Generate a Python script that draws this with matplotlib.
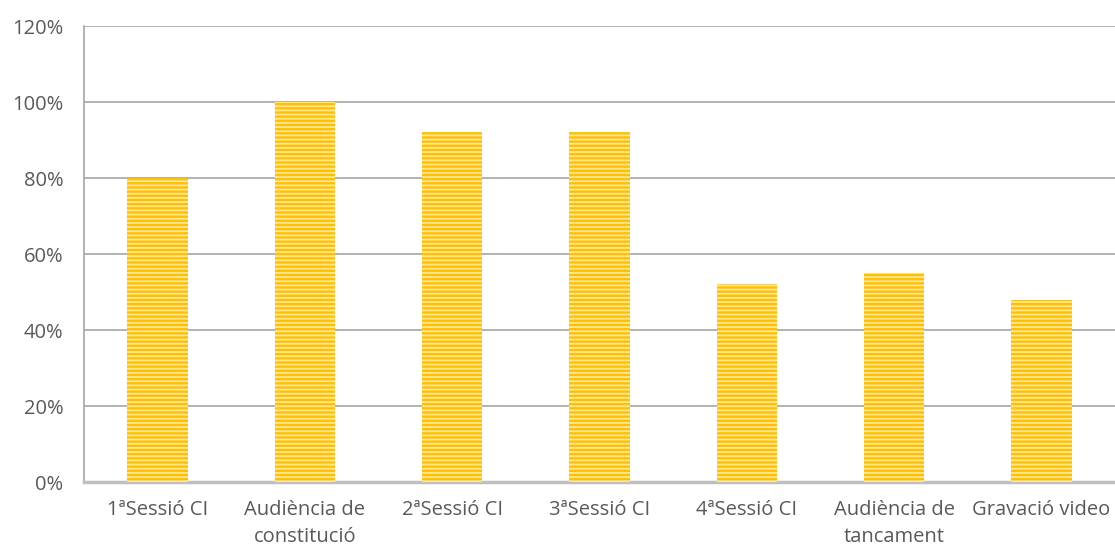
import matplotlib.pyplot as plt
from matplotlib.ticker import PercentFormatter

categories = ["1ªSessió CI", "Audiència de\nconstitució", "2ªSessió CI", "3ªSessió CI",
              "4ªSessió CI", "Audiència de\ntancament", "Gravació video"]
values = [80, 100, 92, 92, 52, 55, 48]

plt.rcParams['font.family'] = ['Open Sans', 'DejaVu Sans']
plt.rcParams['hatch.linewidth'] = 1.3

fig = plt.figure(figsize=(11.15, 5.5), dpi=100)
ax = fig.add_axes([0.0753, 0.1236, 0.9247, 0.8291])

bars = ax.bar(range(len(categories)), values, width=0.41, color='#FFC000',
              edgecolor='#FFE699', hatch='----', linewidth=0, zorder=3)

ax.set_ylim(0, 120)
ax.set_xlim(-0.5, len(categories) - 0.5)
ax.set_yticks(range(0, 121, 20))
ax.yaxis.set_major_formatter(PercentFormatter(decimals=0))
ax.set_xticks(range(len(categories)))
ax.set_xticklabels(categories, linespacing=1.45)

ax.grid(axis='y', color='#A6A6A6', linewidth=1.2, zorder=0)
for s in ['top', 'right']:
    ax.spines[s].set_visible(False)
ax.spines['left'].set_color('#A6A6A6')
ax.spines['left'].set_linewidth(1.2)
ax.spines['bottom'].set_color('#BFBFBF')
ax.spines['bottom'].set_linewidth(2.5)
ax.tick_params(axis='y', length=0, labelsize=14.5, colors='#595959', pad=15)
ax.tick_params(axis='x', length=0, labelsize=14.5, colors='#595959', pad=13)

fig.savefig('out.png', dpi=100)
